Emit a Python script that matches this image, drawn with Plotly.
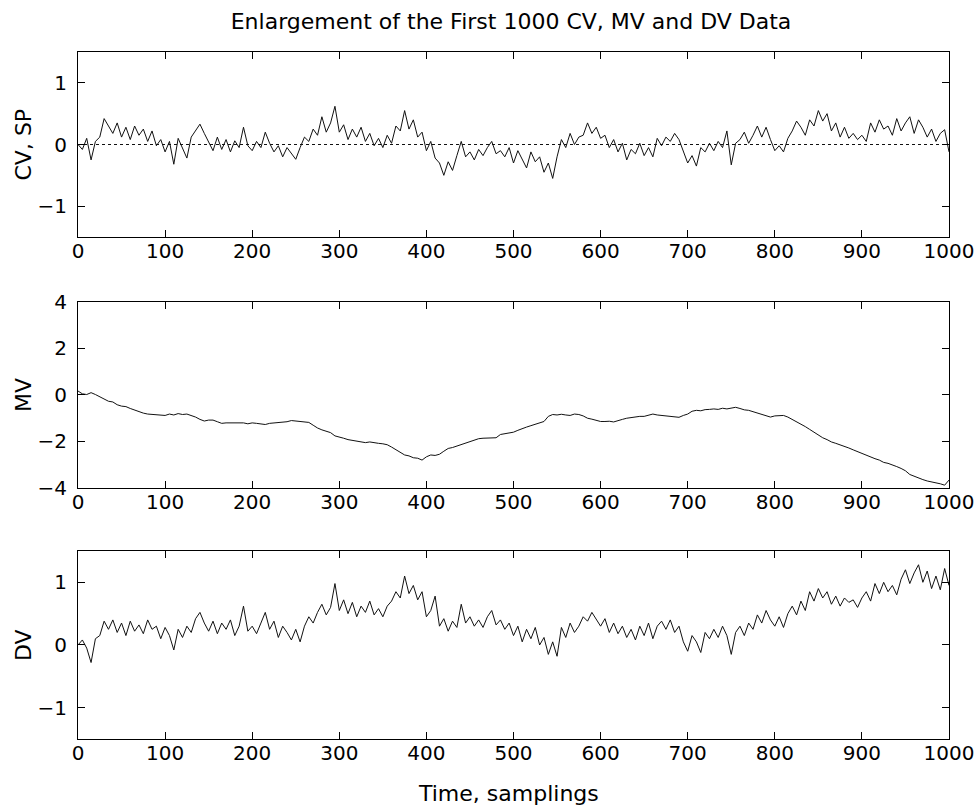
import plotly.graph_objects as go
from plotly.subplots import make_subplots

# Sample index (every 5th sampling of the first 1000)
samples = list(range(0, 1001, 5))

# Controlled variable
cv = [
    0.00, -0.08, 0.10, -0.25, 0.05, 0.12, 0.42, 0.30, 0.18, 0.35,
    0.12, 0.28, 0.08, 0.30, 0.15, 0.25, 0.05, 0.22, -0.02, 0.08,
    -0.12, 0.05, -0.32, 0.10, -0.05, -0.22, 0.12, 0.22, 0.33, 0.18,
    0.05, -0.10, 0.12, -0.08, 0.08, -0.12, 0.06, -0.05, 0.28, -0.02,
    -0.10, 0.05, -0.05, 0.20, 0.02, -0.12, -0.02, -0.20, -0.05, -0.15,
    -0.24, -0.05, 0.12, 0.05, 0.25, 0.15, 0.45, 0.20, 0.35, 0.62,
    0.20, 0.32, 0.08, 0.25, 0.12, 0.28, 0.05, 0.18, -0.02, 0.10,
    -0.05, 0.15, 0.02, 0.30, 0.22, 0.55, 0.25, 0.40, 0.12, 0.20,
    -0.10, 0.05, -0.22, -0.30, -0.50, -0.28, -0.42, -0.18, 0.05, -0.20,
    -0.12, -0.25, -0.08, -0.18, -0.05, 0.05, -0.15, -0.10, -0.20, -0.05,
    -0.30, -0.10, -0.25, -0.38, -0.12, -0.28, -0.20, -0.45, -0.30, -0.55,
    -0.20, 0.08, -0.05, 0.18, 0.00, 0.12, 0.15, 0.35, 0.18, 0.28,
    0.10, 0.15, -0.05, 0.08, -0.12, 0.02, -0.25, -0.08, -0.15, 0.02,
    -0.18, -0.05, -0.20, 0.10, -0.02, 0.12, 0.05, 0.18, 0.08, -0.10,
    -0.30, -0.18, -0.35, -0.05, -0.12, 0.02, -0.10, 0.05, -0.05, 0.22,
    -0.33, 0.02, 0.08, 0.20, 0.02, 0.15, 0.30, 0.12, 0.28, 0.08,
    -0.10, -0.02, -0.12, 0.10, 0.22, 0.38, 0.28, 0.15, 0.40, 0.30,
    0.55, 0.38, 0.50, 0.22, 0.35, 0.12, 0.28, 0.10, 0.18, 0.08,
    0.15, 0.05, 0.35, 0.20, 0.40, 0.25, 0.30, 0.15, 0.42, 0.22,
    0.35, 0.45, 0.18, 0.40, 0.28, 0.12, 0.25, 0.05, 0.18, 0.24,
    -0.12,
]

# Set point
sp_samples = [0, 1000]
sp = [0.0, 0.0]

# Manipulated variable
mv = [
    0.17, 0.05, 0.02, 0.10, 0.02, -0.07, -0.15, -0.27, -0.30, -0.42,
    -0.48, -0.50, -0.58, -0.65, -0.70, -0.78, -0.82, -0.83, -0.84, -0.84,
    -0.88, -0.82, -0.86, -0.80, -0.84, -0.82, -0.88, -0.95, -1.05, -1.12,
    -1.08, -1.08, -1.15, -1.22, -1.20, -1.20, -1.21, -1.19, -1.20, -1.24,
    -1.20, -1.22, -1.26, -1.27, -1.22, -1.20, -1.21, -1.16, -1.15, -1.10,
    -1.12, -1.17, -1.18, -1.18, -1.30, -1.42, -1.50, -1.56, -1.62, -1.76,
    -1.80, -1.86, -1.92, -1.96, -2.00, -2.03, -2.05, -2.02, -2.06, -2.08,
    -2.10, -2.14, -2.24, -2.36, -2.48, -2.58, -2.62, -2.70, -2.72, -2.80,
    -2.66, -2.58, -2.60, -2.55, -2.42, -2.30, -2.26, -2.20, -2.14, -2.08,
    -2.00, -1.94, -1.88, -1.86, -1.85, -1.84, -1.84, -1.70, -1.66, -1.63,
    -1.60, -1.52, -1.44, -1.38, -1.32, -1.25, -1.18, -1.14, -0.92, -0.84,
    -0.86, -0.83, -0.86, -0.88, -0.82, -0.84, -0.90, -1.00, -1.04, -1.10,
    -1.14, -1.14, -1.13, -1.16, -1.12, -1.05, -1.00, -0.97, -0.96, -0.92,
    -0.92, -0.88, -0.82, -0.86, -0.88, -0.92, -0.93, -0.94, -0.96, -0.88,
    -0.82, -0.70, -0.66, -0.68, -0.63, -0.62, -0.60, -0.62, -0.57, -0.60,
    -0.56, -0.53, -0.58, -0.64, -0.66, -0.72, -0.78, -0.84, -0.90, -0.95,
    -0.90, -0.88, -0.88, -0.95, -1.05, -1.14, -1.24, -1.36, -1.48, -1.60,
    -1.72, -1.84, -1.92, -2.02, -2.08, -2.14, -2.20, -2.28, -2.36, -2.44,
    -2.50, -2.58, -2.65, -2.74, -2.80, -2.90, -2.94, -3.00, -3.08, -3.16,
    -3.26, -3.42, -3.50, -3.58, -3.64, -3.70, -3.74, -3.76, -3.82, -3.88,
    -3.66,
]

# Disturbance variable
dv = [
    0.00, 0.08, -0.05, -0.28, 0.10, 0.15, 0.38, 0.25, 0.40, 0.20,
    0.35, 0.15, 0.38, 0.22, 0.32, 0.18, 0.40, 0.25, 0.30, 0.10,
    0.28, 0.15, -0.08, 0.25, 0.12, 0.30, 0.20, 0.42, 0.52, 0.35,
    0.22, 0.38, 0.18, 0.35, 0.25, 0.40, 0.15, 0.30, 0.62, 0.22,
    0.30, 0.18, 0.35, 0.52, 0.25, 0.38, 0.12, 0.30, 0.20, 0.08,
    0.25, 0.05, 0.30, 0.45, 0.35, 0.52, 0.65, 0.48, 0.60, 0.98,
    0.55, 0.72, 0.50, 0.68, 0.45, 0.62, 0.52, 0.70, 0.48, 0.58,
    0.45, 0.62, 0.70, 0.85, 0.75, 1.10, 0.82, 0.95, 0.72, 0.85,
    0.45, 0.55, 0.78, 0.30, 0.42, 0.22, 0.38, 0.28, 0.65, 0.35,
    0.45, 0.30, 0.40, 0.28, 0.45, 0.55, 0.32, 0.40, 0.25, 0.35,
    0.15, 0.30, 0.05, 0.25, 0.10, 0.28, 0.00, 0.12, -0.15, 0.05,
    -0.18, 0.28, 0.12, 0.35, 0.20, 0.30, 0.45, 0.38, 0.52, 0.40,
    0.30, 0.42, 0.20, 0.35, 0.18, 0.30, 0.12, 0.25, 0.08, 0.30,
    0.15, 0.35, 0.10, 0.30, 0.38, 0.25, 0.40, 0.20, 0.30, 0.05,
    -0.10, 0.15, 0.05, -0.12, 0.20, 0.10, 0.25, 0.12, 0.30, 0.15,
    -0.15, 0.20, 0.30, 0.15, 0.35, 0.25, 0.48, 0.35, 0.55, 0.40,
    0.30, 0.45, 0.28, 0.50, 0.62, 0.48, 0.70, 0.55, 0.85, 0.70,
    0.90, 0.75, 0.85, 0.65, 0.78, 0.62, 0.75, 0.68, 0.72, 0.60,
    0.75, 0.85, 0.70, 0.98, 0.82, 1.00, 0.85, 0.95, 0.80, 1.05,
    1.20, 0.98, 1.15, 1.28, 1.00, 1.18, 0.90, 1.10, 0.88, 1.22,
    0.95,
]

x_ticks = list(range(0, 1001, 100))
cv_ticks = [-1, 0, 1]
mv_ticks = [-4, -2, 0, 2, 4]
dv_ticks = [-1, 0, 1]

FONT = "DejaVu Sans"
INK = "#111111"

fig = make_subplots(rows=3, cols=1, shared_xaxes=False, vertical_spacing=0.0)

line_style = dict(color=INK, width=1)
fig.add_trace(go.Scatter(x=samples, y=cv, mode="lines", line=line_style,
                         name="CV"), row=1, col=1)
fig.add_trace(go.Scatter(x=sp_samples, y=sp, mode="lines",
                         line=dict(color=INK, width=1, dash="dot"),
                         name="SP"), row=1, col=1)
fig.add_trace(go.Scatter(x=samples, y=mv, mode="lines", line=line_style,
                         name="MV"), row=2, col=1)
fig.add_trace(go.Scatter(x=samples, y=dv, mode="lines", line=line_style,
                         name="DV"), row=3, col=1)

# Panel placement (paper fractions of the plotting area)
domains = [[0.7307, 1.0], [0.3654, 0.6361], [0.0, 0.2737]]
y_ranges = [[-1.5, 1.5], [-4, 4], [-1.5, 1.5]]
y_tickvals = [cv_ticks, mv_ticks, dv_ticks]

axis_common = dict(
    showline=True, linecolor="black", linewidth=1, mirror="ticks",
    ticks="inside", ticklen=7, tickwidth=1, tickcolor="black",
    showgrid=False, zeroline=False, automargin=False,
    tickfont=dict(family=FONT, size=20, color="black"),
)

for i in range(3):
    fig.update_xaxes(range=[0, 1000], tickvals=x_ticks, domain=[0, 1],
                     ticklabelstandoff=-4,
                     row=i + 1, col=1, **axis_common)
    fig.update_yaxes(range=y_ranges[i], tickvals=y_tickvals[i],
                     domain=domains[i], ticklabelstandoff=6,
                     row=i + 1, col=1, **axis_common)

# Axis titles
y_titles = ["CV, SP", "MV", "DV"]
for title, dom in zip(y_titles, domains):
    fig.add_annotation(text=title, xref="paper", yref="paper",
                       x=-0.062, y=(dom[0] + dom[1]) / 2,
                       xanchor="center", yanchor="middle", textangle=-90,
                       showarrow=False,
                       font=dict(family=FONT, size=22, color="black"))

fig.add_annotation(text="Time, samplings", xref="paper", yref="paper",
                   x=0.4937, y=-0.080, xanchor="center", yanchor="middle",
                   showarrow=False,
                   font=dict(family=FONT, size=22, color="black"))

fig.update_layout(
    width=979, height=807,
    margin=dict(l=78, r=30, t=52, b=68, autoexpand=False),
    paper_bgcolor="white", plot_bgcolor="white",
    showlegend=False,
    title=dict(text="Enlargement of the First 1000 CV, MV and DV Data",
               x=511 / 979, xanchor="center", xref="container",
               y=1 - 21 / 807, yanchor="middle", yref="container",
               font=dict(family=FONT, size=22, color="black")),
)

fig.write_html("out.html")
